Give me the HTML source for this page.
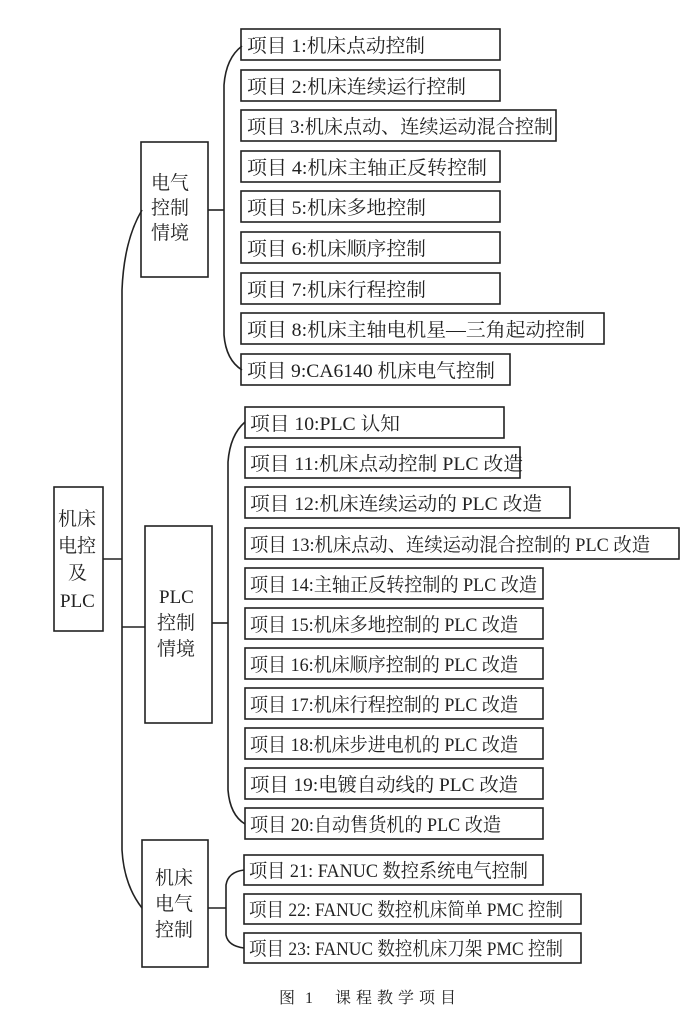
<!DOCTYPE html>
<html><head><meta charset="utf-8"><style>
html,body{margin:0;padding:0;background:#fff;}
svg text{font-family:"Liberation Serif","Noto Serif CJK SC",serif;font-size:19px;fill:#222;}
</style></head><body>
<svg width="700" height="1022" viewBox="0 0 700 1022" xmlns="http://www.w3.org/2000/svg">
<g fill="none" stroke="#222" stroke-width="1.6">
<rect x="54" y="487" width="49" height="144"/>
<path d="M103 559 H122"/>
<path d="M142 210 Q124 240 122 290 V850 Q124 885 142 908"/>
<path d="M122 627 H145"/>
<rect x="141" y="142" width="67" height="135"/>
<path d="M208 210 H224"/>
<path d="M242 46 Q226 58 224 85 V335 Q226 360 242 370"/>
<rect x="145" y="526" width="67" height="197"/>
<path d="M212 623 H228"/>
<path d="M245 422 Q230 435 228 462 V790 Q230 815 245 824"/>
<rect x="142" y="840" width="66" height="127"/>
<path d="M208 908 H226"/>
<path d="M244 870 Q228 872 226 885 V935 Q228 946 244 948"/>
<rect x="241" y="29" width="259" height="31"/>
<rect x="241" y="70" width="259" height="31"/>
<rect x="241" y="110" width="315" height="31"/>
<rect x="241" y="151" width="259" height="31"/>
<rect x="241" y="191" width="259" height="31"/>
<rect x="241" y="232" width="259" height="31"/>
<rect x="241" y="273" width="259" height="31"/>
<rect x="241" y="313" width="363" height="31"/>
<rect x="241" y="354" width="269" height="31"/>
<rect x="245" y="407" width="259" height="31"/>
<rect x="245" y="447" width="275" height="31"/>
<rect x="245" y="487" width="325" height="31"/>
<rect x="245" y="528" width="434" height="31"/>
<rect x="245" y="568" width="298" height="31"/>
<rect x="245" y="608" width="298" height="31"/>
<rect x="245" y="648" width="298" height="31"/>
<rect x="245" y="688" width="298" height="31"/>
<rect x="245" y="728" width="298" height="31"/>
<rect x="245" y="768" width="298" height="31"/>
<rect x="245" y="808" width="298" height="31"/>
<rect x="244" y="855" width="299" height="30"/>
<rect x="244" y="894" width="337" height="30"/>
<rect x="244" y="933" width="337" height="30"/>
</g>
<g lengthAdjust="spacingAndGlyphs">
<text x="58" y="525">机床</text>
<text x="58" y="552">电控</text>
<text x="68" y="579">及</text>
<text x="60" y="607">PLC</text>
<text x="151" y="189">电气</text>
<text x="151" y="214">控制</text>
<text x="151" y="239">情境</text>
<text x="159" y="603">PLC</text>
<text x="157" y="629">控制</text>
<text x="157" y="655">情境</text>
<text x="155" y="884">机床</text>
<text x="155" y="910">电气</text>
<text x="155" y="936">控制</text>

<text x="247" y="52" textLength="178" lengthAdjust="spacingAndGlyphs">项目 1:机床点动控制</text>
<text x="247" y="93" textLength="219" lengthAdjust="spacingAndGlyphs">项目 2:机床连续运行控制</text>
<text x="247" y="133" textLength="306" lengthAdjust="spacingAndGlyphs">项目 3:机床点动、连续运动混合控制</text>
<text x="247" y="174" textLength="240" lengthAdjust="spacingAndGlyphs">项目 4:机床主轴正反转控制</text>
<text x="247" y="214" textLength="179" lengthAdjust="spacingAndGlyphs">项目 5:机床多地控制</text>
<text x="247" y="255" textLength="179" lengthAdjust="spacingAndGlyphs">项目 6:机床顺序控制</text>
<text x="247" y="296" textLength="179" lengthAdjust="spacingAndGlyphs">项目 7:机床行程控制</text>
<text x="247" y="336" textLength="338" lengthAdjust="spacingAndGlyphs">项目 8:机床主轴电机星—三角起动控制</text>
<text x="247" y="377" textLength="248" lengthAdjust="spacingAndGlyphs">项目 9:CA6140 机床电气控制</text>

<text x="250" y="430" textLength="150" lengthAdjust="spacingAndGlyphs">项目 10:PLC 认知</text>
<text x="250" y="470" textLength="273" lengthAdjust="spacingAndGlyphs">项目 11:机床点动控制 PLC 改造</text>
<text x="250" y="510" textLength="292" lengthAdjust="spacingAndGlyphs">项目 12:机床连续运动的 PLC 改造</text>
<text x="250" y="551" textLength="400" lengthAdjust="spacingAndGlyphs">项目 13:机床点动、连续运动混合控制的 PLC 改造</text>
<text x="250" y="591" textLength="287" lengthAdjust="spacingAndGlyphs">项目 14:主轴正反转控制的 PLC 改造</text>
<text x="250" y="631" textLength="268" lengthAdjust="spacingAndGlyphs">项目 15:机床多地控制的 PLC 改造</text>
<text x="250" y="671" textLength="268" lengthAdjust="spacingAndGlyphs">项目 16:机床顺序控制的 PLC 改造</text>
<text x="250" y="711" textLength="268" lengthAdjust="spacingAndGlyphs">项目 17:机床行程控制的 PLC 改造</text>
<text x="250" y="751" textLength="268" lengthAdjust="spacingAndGlyphs">项目 18:机床步进电机的 PLC 改造</text>
<text x="250" y="791" textLength="268" lengthAdjust="spacingAndGlyphs">项目 19:电镀自动线的 PLC 改造</text>
<text x="250" y="831" textLength="251" lengthAdjust="spacingAndGlyphs">项目 20:自动售货机的 PLC 改造</text>

<text x="249" y="877" textLength="279" lengthAdjust="spacingAndGlyphs">项目 21: FANUC 数控系统电气控制</text>
<text x="249" y="916" textLength="314" lengthAdjust="spacingAndGlyphs">项目 22: FANUC 数控机床简单 PMC 控制</text>
<text x="249" y="955" textLength="314" lengthAdjust="spacingAndGlyphs">项目 23: FANUC 数控机床刀架 PMC 控制</text>

<text x="279" y="1003" style="font-size:16px;letter-spacing:3px">图 1</text>
<text x="335" y="1003" style="font-size:16px;letter-spacing:5px">课程教学项目</text>
</g>
</svg>
</body></html>
